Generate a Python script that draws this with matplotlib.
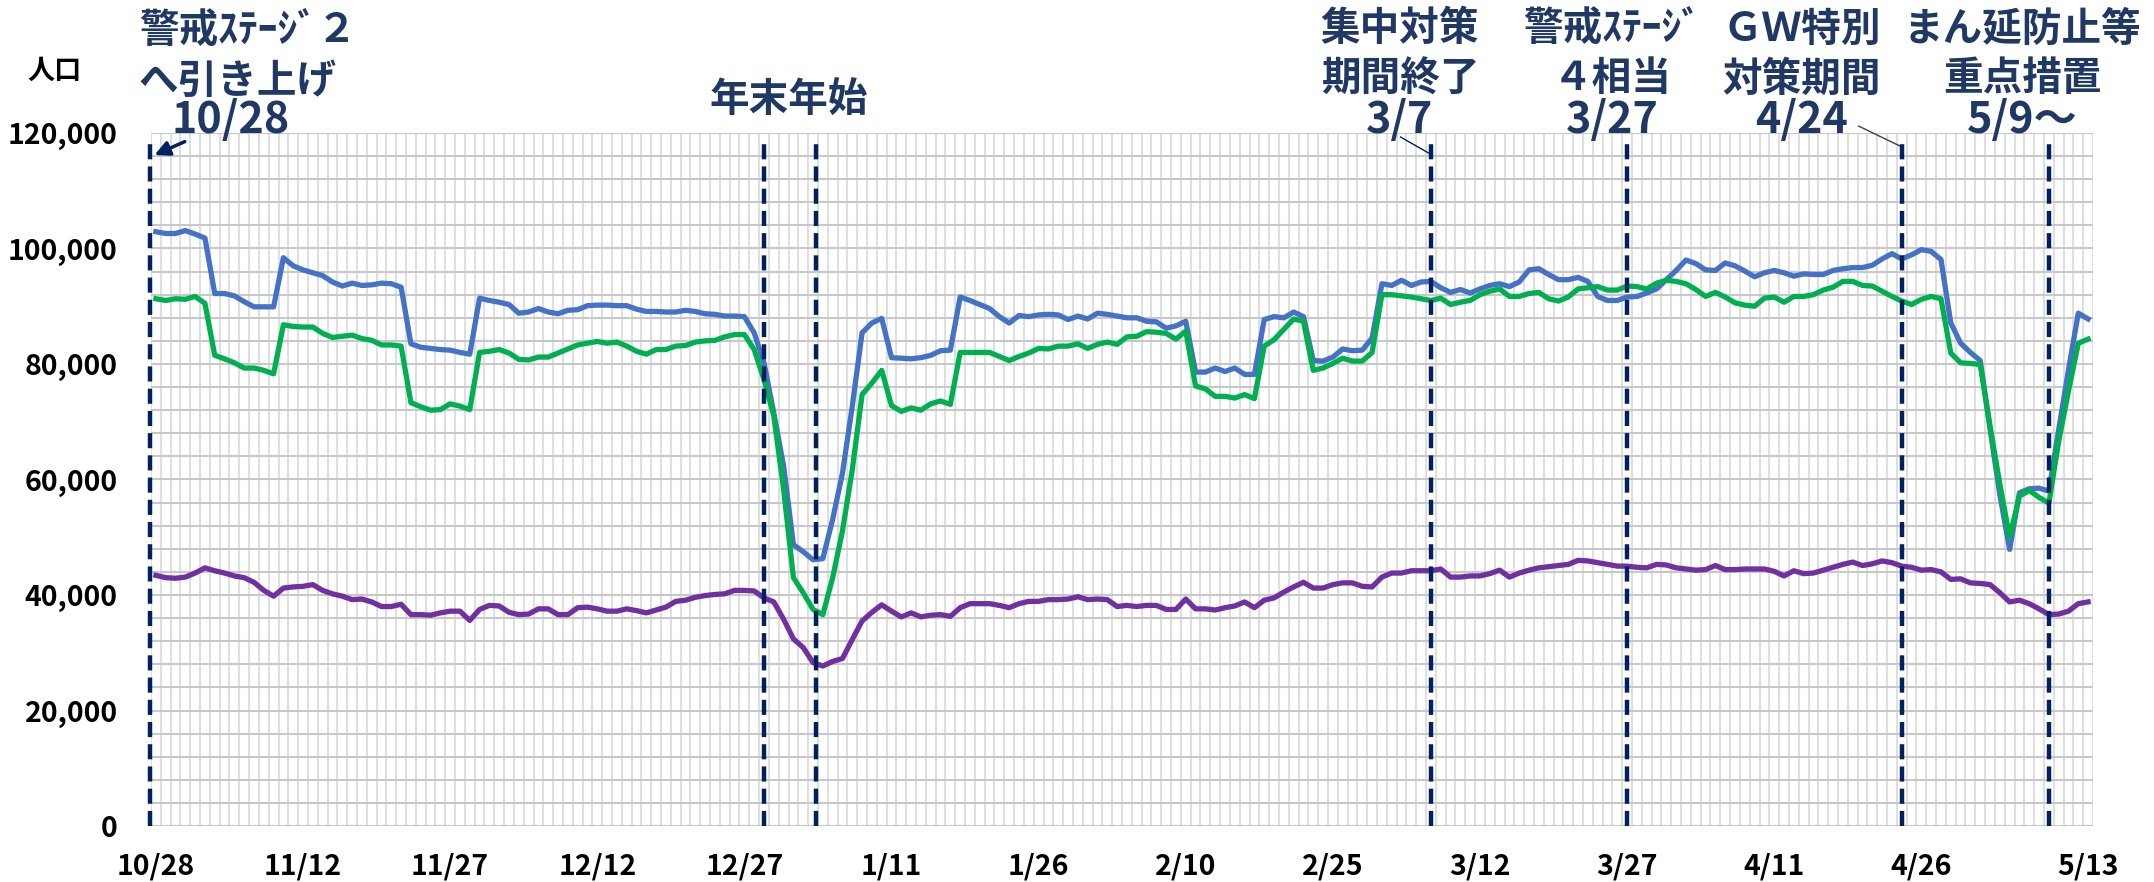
import numpy as np
import pandas as pd
import matplotlib
matplotlib.use("Agg")
import matplotlib.pyplot as plt
from matplotlib.ticker import FuncFormatter

plt.rcParams['font.family'] = ['Noto Sans CJK JP', 'DejaVu Sans']

# daily population, 2020/10/28 - 2021/5/13
dates = pd.date_range('2020-10-28', '2021-05-13')

blue = [102900, 102600, 102600, 103100, 102500, 101800, 92200, 92200, 91800, 90800,
        89900, 89900, 89900, 98400, 97000, 96300, 95800, 95300, 94200, 93500,
        94000, 93600, 93700, 94000, 93900, 93300, 83500, 82900, 82700, 82500,
        82400, 82000, 81700, 91400, 91000, 90700, 90300, 88800, 89000, 89600,
        89000, 88700, 89300, 89400, 90100, 90200, 90200, 90100, 90100, 89500,
        89100, 89100, 89000, 89000, 89300, 89100, 88700, 88600, 88300, 88300,
        88200, 85400, 80200, 71500, 62300, 48700, 47500, 46100, 46300, 53100,
        61100, 72700, 85400, 87100, 87900, 81100, 81000, 80900, 81100, 81500,
        82300, 82400, 91600, 91000, 90300, 89600, 88200, 87100, 88400, 88200,
        88500, 88600, 88500, 87700, 88300, 87800, 88800, 88600, 88300, 88000,
        88000, 87400, 87300, 86200, 86600, 87400, 78600, 78600, 79300, 78700,
        79300, 78200, 78200, 87700, 88200, 88000, 89000, 88200, 80600, 80500,
        81200, 82600, 82300, 82400, 84500, 93900, 93600, 94500, 93600, 94200,
        94300, 93200, 92400, 92900, 92300, 93000, 93600, 93900, 93400, 94200,
        96300, 96500, 95500, 94600, 94600, 95000, 94300, 91700, 91000, 91000,
        91600, 91700, 92300, 93000, 94600, 96200, 98000, 97400, 96300, 96200,
        97500, 97000, 96100, 95100, 95800, 96200, 95800, 95200, 95600, 95500,
        95500, 96200, 96500, 96700, 96700, 97100, 98200, 99100, 98200, 98900,
        99800, 99500, 98100, 87100, 83600, 82000, 80600, 68800, 57400, 47900,
        57700, 58400, 58500, 58000, 68600, 79000, 88800, 87800]

green = [91300, 91000, 91300, 91200, 91700, 90500, 81500, 80900, 80200, 79300,
         79300, 78900, 78300, 86800, 86500, 86400, 86400, 85300, 84600, 84800,
         85000, 84400, 84100, 83300, 83300, 83100, 73300, 72600, 72000, 72100,
         73100, 72700, 72100, 82000, 82200, 82500, 81900, 80800, 80700, 81200,
         81200, 81900, 82600, 83300, 83600, 83900, 83600, 83800, 83100, 82200,
         81700, 82500, 82500, 83100, 83200, 83800, 84000, 84100, 84700, 85100,
         85100, 82500, 77300, 71000, 58300, 43000, 40400, 37500, 36600, 43000,
         51100, 61700, 74700, 76700, 78900, 72800, 71800, 72400, 72000, 73100,
         73600, 73000, 82000, 82000, 82000, 82000, 81300, 80600, 81300, 81900,
         82700, 82600, 83100, 83100, 83500, 82700, 83400, 83800, 83400, 84700,
         84800, 85600, 85500, 85300, 84300, 85700, 76200, 75700, 74400, 74400,
         74100, 74700, 74000, 83100, 84200, 86000, 87800, 87400, 78900, 79300,
         80100, 81000, 80500, 80500, 82000, 92000, 92000, 91800, 91600, 91300,
         91000, 91400, 90300, 90700, 91000, 92000, 92600, 93000, 91700, 91700,
         92200, 92400, 91300, 90900, 91600, 93000, 93200, 93400, 92800, 92800,
         93500, 93400, 93000, 94000, 94500, 94300, 93900, 92900, 91700, 92400,
         91600, 90600, 90200, 90000, 91400, 91600, 90700, 91700, 91700, 92000,
         92800, 93300, 94300, 94300, 93600, 93500, 92600, 91700, 90900, 90300,
         91200, 91700, 91300, 81900, 80200, 80100, 79900, 69300, 59200, 50000,
         57100, 58100, 56900, 55900, 66600, 75300, 83600, 84300]

purple = [43400, 43000, 42900, 43100, 43800, 44700, 44200, 43800, 43300, 43000,
          42200, 40800, 39800, 41200, 41400, 41500, 41800, 40800, 40200, 39800,
          39200, 39300, 38800, 38000, 38000, 38400, 36600, 36600, 36500, 36900,
          37200, 37200, 35600, 37500, 38200, 38100, 37000, 36600, 36700, 37600,
          37600, 36600, 36600, 37800, 37900, 37600, 37200, 37200, 37600, 37300,
          36900, 37400, 37900, 38900, 39100, 39600, 39900, 40100, 40200, 40800,
          40800, 40700, 39500, 38800, 35800, 32400, 30900, 28300, 27700, 28500,
          29000, 32300, 35500, 37000, 38300, 37200, 36200, 36900, 36200, 36500,
          36600, 36300, 37800, 38500, 38500, 38500, 38200, 37800, 38500, 38900,
          38900, 39200, 39200, 39300, 39700, 39200, 39300, 39200, 38000, 38200,
          38000, 38200, 38200, 37500, 37500, 39300, 37600, 37600, 37400, 37800,
          38100, 38800, 37800, 39100, 39500, 40500, 41400, 42200, 41200, 41200,
          41800, 42100, 42100, 41500, 41400, 43100, 43800, 43800, 44200, 44200,
          44200, 44500, 43100, 43100, 43300, 43300, 43700, 44300, 43100, 43800,
          44300, 44700, 44900, 45100, 45300, 46000, 45900, 45600, 45300, 45000,
          45000, 44800, 44700, 45300, 45200, 44700, 44500, 44300, 44400, 45100,
          44400, 44400, 44500, 44500, 44500, 44100, 43300, 44200, 43700, 43800,
          44300, 44800, 45300, 45700, 45100, 45400, 45900, 45600, 45000, 44800,
          44300, 44400, 44000, 42700, 42800, 42100, 42000, 41800, 40400, 38800,
          39100, 38500, 37600, 36600, 36700, 37200, 38500, 38800]

tick_labels = ['10/28', '11/12', '11/27', '12/12', '12/27', '1/11', '1/26',
               '2/10', '2/25', '3/12', '3/27', '4/11', '4/26', '5/13']

# dashed event lines
event_dates = ['2020-10-28', '2020-12-29', '2021-01-03', '2021-03-07',
               '2021-03-27', '2021-04-24', '2021-05-09']
event_shift = [-0.6, 0, 0.3, 0, 0, 0, 0]

W, H = 2154, 882
fig = plt.figure(figsize=(W / 100, H / 100), dpi=100)
ax = fig.add_axes([151 / W, 56 / H, 1942 / W, 693 / H])

x = np.arange(len(dates))
day_lbl = [f"{d.month}/{d.day}" for d in dates]

ax.plot(x, blue, color='#4472C4', lw=3.8, solid_joinstyle='round', zorder=4)
ax.plot(x, green, color='#00B050', lw=3.8, solid_joinstyle='round', zorder=4)
ax.plot(x, purple, color='#7030A0', lw=3.8, solid_joinstyle='round', zorder=4)

navy = '#002060'
for d, s in zip(event_dates, event_shift):
    xi = dates.get_loc(pd.Timestamp(d)) + s
    ax.plot([xi, xi], [0, 118200], color=navy, lw=3.2,
            linestyle=(0, (3.4, 1.6)), zorder=5, clip_on=False)

ax.set_xlim(-0.5, len(x) - 0.5)
ax.set_ylim(0, 120000)

# grid
ax.set_xticks(np.arange(-0.5, len(x), 1.0), minor=True)
ax.set_yticks(np.arange(0, 120001, 4000), minor=True)
ax.set_yticks(np.arange(0, 120001, 20000))
ax.grid(which='minor', axis='x', color='#D9D9D9', lw=1.2, zorder=0)
ax.grid(which='both', axis='y', color='#C8C8C8', lw=1.5, zorder=0)
ax.set_axisbelow(True)

tick_pos = [day_lbl.index(t) for t in tick_labels]
ax.set_xticks(tick_pos)
ax.set_xticklabels(tick_labels)
ax.yaxis.set_major_formatter(FuncFormatter(lambda v, p: f"{int(v):,}"))
ax.tick_params(which='both', length=0)
ax.tick_params(axis='y', pad=24, labelsize=20.5)
ax.tick_params(axis='x', pad=19, labelsize=20.5)
for lab in ax.get_xticklabels() + ax.get_yticklabels():
    lab.set_fontweight('bold')
for sp in ax.spines.values():
    sp.set_visible(False)


def fp(px, py):
    return px / W, 1 - py / H


tc = '#1F3864'
fs = 28.5
fd = 31
fig.text(*fp(55, 71), '人口', fontsize=19.5, fontweight='bold', ha='center', va='center')
fig.text(*fp(139, 31), '警戒ｽﾃｰｼﾞ２', fontsize=fs, fontweight='bold', color=tc, ha='left', va='center')
fig.text(*fp(139, 81), 'へ引き上げ', fontsize=fs, fontweight='bold', color=tc, ha='left', va='center')
fig.text(*fp(231, 120), '10/28', fontsize=fd, fontweight='bold', color=tc, ha='center', va='center')
fig.text(*fp(789, 100), '年末年始', fontsize=fs, fontweight='bold', color=tc, ha='center', va='center')

blocks = [
    (1400, ['集中対策', '期間終了', '3/7']),
    (1612, ['警戒ｽﾃｰｼﾞ', '４相当', '3/27']),
    (1802, ['ＧＷ特別', '対策期間', '4/24']),
    (2022, ['まん延防止等', '重点措置', '5/9～']),
]
for cx, lines in blocks:
    for ly, txt, f in zip([29, 79, 120], lines, [fs, fs, fd]):
        fig.text(*fp(cx, ly), txt, fontsize=f, fontweight='bold', color=tc,
                 ha='center', va='center')

# leader lines
ax.annotate('', xy=(-0.4, 116000), xytext=(3.2, 118700),
            arrowprops=dict(arrowstyle='-|>', color=navy, lw=2.5, mutation_scale=22),
            annotation_clip=False)
ax.plot([126.9, 130], [119300, 116300], color=navy, lw=1, clip_on=False)
ax.plot([173.6, 178], [121200, 117600], color='#404040', lw=1, clip_on=False)

fig.savefig('out.png', dpi=100)
